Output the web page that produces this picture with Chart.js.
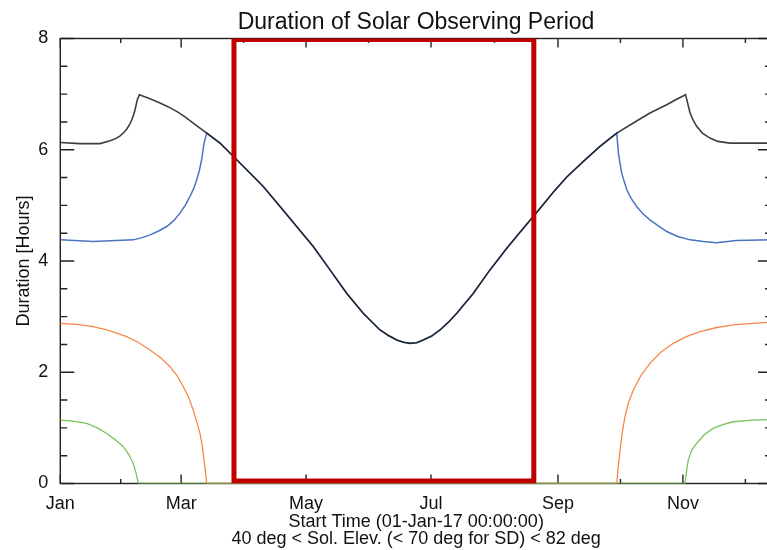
<!DOCTYPE html>
<html lang="en">
<head>
  <meta charset="UTF-8" />
  <title>Duration of Solar Observing Period</title>
  <script src="https://cdn.jsdelivr.net/npm/chart.js@4.4.0/dist/chart.umd.min.js"></script>
  <style>
    html, body {
      margin: 0;
      padding: 0;
      background: #ffffff;
      overflow: hidden;
    }
    #wrap {
      position: absolute;
      left: 0;
      top: 0;
      width: 832px;
      height: 550px;
    }
  </style>
</head>
<body>

  <div id="wrap">
    <canvas id="durationChart" width="832" height="550"></canvas>
  </div>

  <script>
    // === Data (x = day of 2017, y = hours) ===
    const blackDays  = [0, 9.6, 19.4, 24.3, 27, 29.2, 31, 32.4, 33.8, 34.9, 35.8, 36.5, 37.6, 38.6, 43.5, 48.7, 52.8, 56.8, 60.9, 64.9, 68.2, 71.5, 78.0, 83.7, 91.0, 99.1, 107.3, 115.4, 123.5, 131.7, 139.8, 147.9, 156.1, 160.2, 164.3, 167.5, 170.8, 174.0, 177.2, 181.3, 185.4, 189.5, 193.6, 201.7, 209.8, 218.0, 226.1, 234.3, 240.8, 247.3, 255.4, 263.5, 271.7, 279.8, 287.9, 296.1, 300.5, 305.3, 306.3, 307.5, 308.9, 310.7, 313.5, 317.2, 321, 327.0, 347.5];
    const blackHours = [6.13, 6.11, 6.11, 6.16, 6.20, 6.25, 6.31, 6.37, 6.45, 6.54, 6.63, 6.72, 6.90, 6.99, 6.92, 6.84, 6.77, 6.69, 6.59, 6.48, 6.39, 6.30, 6.12, 5.91, 5.64, 5.34, 4.98, 4.62, 4.26, 3.84, 3.42, 3.06, 2.76, 2.66, 2.58, 2.54, 2.52, 2.53, 2.58, 2.65, 2.76, 2.90, 3.06, 3.42, 3.84, 4.23, 4.59, 4.95, 5.24, 5.51, 5.79, 6.06, 6.30, 6.48, 6.66, 6.81, 6.90, 6.99, 6.84, 6.66, 6.54, 6.42, 6.30, 6.21, 6.15, 6.12, 6.12];

    const blueDays  = [0, 16.1, 35.6, 40, 43.8, 48, 52.0, 55.5, 58.4, 61, 63.3, 65.1, 66.6, 68, 69.0, 70.2, 71.5, 78.0, 83.7, 91.0, 99.1, 107.3, 115.4, 123.5, 131.7, 139.8, 147.9, 156.1, 160.2, 164.3, 167.5, 170.8, 174.0, 177.2, 181.3, 185.4, 189.5, 193.6, 201.7, 209.8, 218.0, 226.1, 234.3, 240.8, 247.3, 255.4, 263.5, 271.7, 272.5, 274.1, 276.6, 278.8, 281.4, 284.5, 287.9, 292, 296.1, 301.5, 307.5, 314, 320.5, 330, 347.5];
    const blueHours = [4.38, 4.35, 4.38, 4.42, 4.47, 4.54, 4.62, 4.73, 4.86, 5.00, 5.16, 5.30, 5.46, 5.64, 5.82, 6.12, 6.30, 6.12, 5.91, 5.64, 5.34, 4.98, 4.62, 4.26, 3.84, 3.42, 3.06, 2.76, 2.66, 2.58, 2.54, 2.52, 2.53, 2.58, 2.65, 2.76, 2.90, 3.06, 3.42, 3.84, 4.23, 4.59, 4.95, 5.24, 5.51, 5.79, 6.06, 6.30, 5.94, 5.58, 5.28, 5.12, 4.98, 4.85, 4.74, 4.63, 4.53, 4.44, 4.38, 4.35, 4.33, 4.37, 4.38];

    const orangeDays  = [0, 8, 16.1, 24, 32.4, 38, 43.8, 49, 53.6, 57, 60.1, 62.7, 64.9, 66.7, 68.2, 69.3, 70.2, 70.9, 71.5, 271.7, 272.4, 273.3, 274.4, 275.7, 277.5, 279.8, 283.5, 287.9, 293.2, 299.3, 305.6, 312.3, 320, 328.6, 338, 347.5];
    const orangeHours = [2.88, 2.86, 2.82, 2.75, 2.64, 2.54, 2.40, 2.26, 2.10, 1.94, 1.74, 1.54, 1.32, 1.10, 0.90, 0.68, 0.42, 0.20, 0, 0, 0.30, 0.60, 0.92, 1.20, 1.46, 1.68, 1.94, 2.16, 2.36, 2.52, 2.64, 2.73, 2.80, 2.85, 2.88, 2.90];

    const greenDays  = [0, 6, 12.9, 18, 22.7, 27, 30.8, 33.5, 35.6, 36.9, 38.1, 305.0, 305.7, 306.6, 308.3, 310.7, 314.5, 318.8, 323.5, 328.6, 338, 347.5];
    const greenHours = [1.14, 1.12, 1.08, 1.00, 0.90, 0.78, 0.66, 0.52, 0.36, 0.20, 0, 0, 0.20, 0.42, 0.60, 0.72, 0.88, 0.99, 1.06, 1.11, 1.14, 1.15];

    // highlighted window (red box)
    const boxDays  = [84.8, 84.8, 231.2, 231.2, 84.8];
    const boxHours = [0.045, 7.98, 7.98, 0.045, 0.045];

    // === Axis ticks ===
    const monthDays   = [0, 59, 120, 181, 243, 304];
    const monthLabels = ['Jan', 'Mar', 'May', 'Jul', 'Sep', 'Nov'];
    const minorDays   = [29.5, 89.5, 150.5, 212, 273.5, 334.5];
    const hourTicks   = [0, 2, 4, 6, 8];
    const hourMinor   = [0.5, 1, 1.5, 2.5, 3, 3.5, 4.5, 5, 5.5, 6.5, 7, 7.5];

    const FONT = "'Liberation Sans', Arial, Helvetica, sans-serif";
    const toXY = (xs, ys) => xs.map((d, i) => ({ x: d, y: ys[i] }));

    // IDL-style frame with inward ticks on all four sides
    const framePlugin = {
      id: 'frame',
      beforeDatasetsDraw(chart) {
        const { ctx, chartArea: a, scales } = chart;
        const x = scales.x, y = scales.y;
        ctx.save();
        ctx.strokeStyle = '#222';
        ctx.lineWidth = 1.4;
        ctx.strokeRect(a.left, a.top, a.right - a.left, a.bottom - a.top);
        ctx.beginPath();
        const xTick = (d, len) => {
          const px = x.getPixelForValue(d);
          ctx.moveTo(px, a.bottom); ctx.lineTo(px, a.bottom - len);
          ctx.moveTo(px, a.top);    ctx.lineTo(px, a.top + len);
        };
        const yTick = (h, len) => {
          const py = y.getPixelForValue(h);
          ctx.moveTo(a.left, py);  ctx.lineTo(a.left + len, py);
          ctx.moveTo(a.right, py); ctx.lineTo(a.right - len, py);
        };
        monthDays.forEach(d => xTick(d, 9));
        minorDays.forEach(d => xTick(d, 4.5));
        hourTicks.forEach(h => yTick(h, 14));
        hourMinor.forEach(h => yTick(h, 7));
        ctx.stroke();
        ctx.restore();
      }
    };

    const line = (label, xs, ys, color, width) => ({
      label: label,
      data: toXY(xs, ys),
      borderColor: color,
      borderWidth: width,
      pointRadius: 0,
      tension: 0,
      fill: false
    });

    new Chart(document.getElementById('durationChart'), {
      type: 'line',
      data: {
        datasets: [
          Object.assign(line('Window', boxDays, boxHours, '#c00000', 5), { borderJoinStyle: 'miter', borderCapStyle: 'square' }),
          line('Green', greenDays, greenHours, '#7cc25c', 1.3),
          line('Orange', orangeDays, orangeHours, '#f7874c', 1.3),
          line('Black', blackDays, blackHours, 'rgba(20,20,20,0.82)', 1.6),
          line('Blue', blueDays, blueHours, '#4a74c0', 1.5)
        ]
      },
      options: {
        responsive: false,
        animation: false,
        devicePixelRatio: 1,
        layout: { padding: 0 },
        plugins: {
          legend: { display: false },
          tooltip: { enabled: false },
          title: {
            display: true,
            text: 'Duration of Solar Observing Period',
            color: '#111',
            font: { family: FONT, size: 23, weight: 'normal' },
            padding: { top: 8.5, bottom: 2.4 }
          }
        },
        scales: {
          x: {
            type: 'linear',
            min: 0,
            max: 347.5,
            grid: { display: false },
            border: { display: false },
            afterBuildTicks: s => { s.ticks = monthDays.map(v => ({ value: v })); },
            afterFit: s => { s.height = 66.5; },
            ticks: {
              autoSkip: false,
              maxRotation: 0,
              padding: 2,
              color: '#111',
              font: { family: FONT, size: 18 },
              callback: v => monthLabels[monthDays.indexOf(v)]
            },
            title: {
              display: true,
              text: ['Start Time (01-Jan-17 00:00:00)', '40 deg < Sol. Elev. (< 70 deg for SD) < 82 deg'],
              color: '#111',
              font: { family: FONT, size: 18, lineHeight: 0.95 },
              padding: { top: 0, bottom: 2.7 }
            }
          },
          y: {
            min: 0,
            max: 8,
            grid: { display: false },
            border: { display: false },
            afterFit: s => { s.width = 60.3; },
            ticks: {
              stepSize: 2,
              padding: 4,
              color: '#111',
              font: { family: FONT, size: 18 }
            },
            title: {
              display: true,
              text: 'Duration [Hours]',
              color: '#111',
              font: { family: FONT, size: 18 },
              padding: { top: 13, bottom: 0 }
            }
          },
          y2: {
            position: 'right',
            min: 0,
            max: 8,
            grid: { display: false },
            border: { display: false },
            ticks: { display: false },
            afterFit: s => { s.width = 60; }
          }
        }
      },
      plugins: [framePlugin]
    });
  </script>
</body>
</html>
